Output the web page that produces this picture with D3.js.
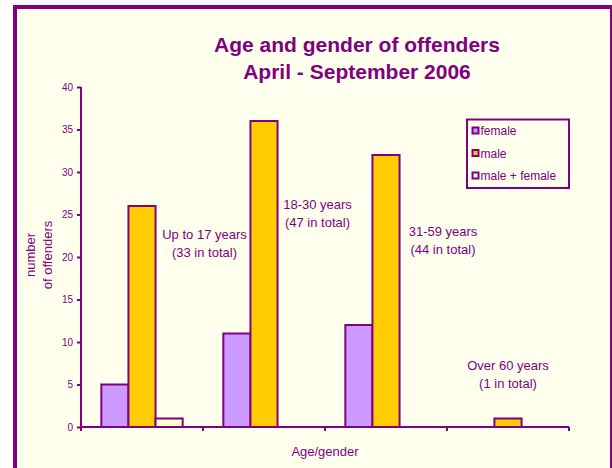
<!DOCTYPE html>
<html>
<head>
<meta charset="utf-8">
<script src="https://cdn.jsdelivr.net/npm/d3@7"></script>
<style>
  html, body { margin: 0; padding: 0; background: #ffffff; }
  svg { display: block; font-family: "Liberation Sans", Arial, sans-serif; }
</style>
</head>
<body>
<svg id="chart" width="612" height="468"></svg>
<script>
const categories = ["Up to 17 years", "18-30 years", "31-59 years", "Over 60 years"];
const seriesNames = ["female", "male", "male + female"];
const female = [5, 11, 12, 0];
const male = [26, 36, 32, 1];
const maleFemale = [1, 0, 0, 0];
const yTicks = [0, 5, 10, 15, 20, 25, 30, 35, 40];
const annotationLines = [
  ["Up to 17 years", "(33 in total)"],
  ["18-30 years", "(47 in total)"],
  ["31-59 years", "(44 in total)"],
  ["Over 60 years", "(1 in total)"]
];
const titleLines = ["Age and gender of offenders", "April - September 2006"];

const purple = "#800080";
const colors = ["#CC99FF", "#FFCC00", "#FFFFCC"];
const bg = "#FFFFEE";

const svg = d3.select("#chart");

// outer frame
svg.append("rect")
  .attr("x", 15).attr("y", 7).attr("width", 597).attr("height", 500)
  .attr("fill", bg).attr("stroke", purple).attr("stroke-width", 4);

const margin = { left: 81, right: 43, top: 87, bottom: 41 };
const W = 612, H = 468;
const x = d3.scaleBand().domain(categories).range([margin.left, W - margin.right]).paddingInner(0).paddingOuter(0);
const y = d3.scaleLinear().domain([0, 40]).range([H - margin.bottom, margin.top]);

const series = [female, male, maleFemale];
// Excel-like gap width 150%
const inner = d3.scaleBand().domain(d3.range(series.length))
  .range([0, x.bandwidth()]).paddingInner(0).paddingOuter(0.75);

// title
svg.append("g").selectAll("text").data(titleLines).join("text")
  .attr("x", 357).attr("y", (d, i) => 51.5 + i * 27.5)
  .attr("text-anchor", "middle")
  .attr("font-size", 21).attr("font-weight", "bold")
  .attr("fill", purple).text(d => d);

// bars
const data = [];
categories.forEach((c, ci) => {
  series.forEach((s, si) => {
    if (s[ci] > 0) data.push({ c, si, v: s[ci] });
  });
});
svg.append("g").selectAll("rect").data(data).join("rect")
  .attr("x", d => x(d.c) + inner(d.si))
  .attr("y", d => y(d.v))
  .attr("width", inner.bandwidth())
  .attr("height", d => y(0) - y(d.v))
  .attr("fill", d => colors[d.si])
  .attr("stroke", purple).attr("stroke-width", 2);

// y axis
const yAxis = svg.append("g").attr("transform", `translate(${margin.left},0)`)
  .call(d3.axisLeft(y).tickValues(yTicks).tickSize(4).tickPadding(4));
yAxis.select(".domain").attr("stroke", purple).attr("stroke-width", 2)
  .attr("d", `M0,${y(40)}V${y(0)}`);
yAxis.selectAll(".tick line").attr("stroke", purple).attr("stroke-width", 2);
yAxis.selectAll(".tick text").attr("fill", purple).attr("font-size", 10)
  .attr("font-family", "Liberation Sans, Arial, sans-serif");

// x axis
const xAxis = svg.append("g").attr("transform", `translate(0,${y(0)})`)
  .call(d3.axisBottom(x).tickSize(0).tickFormat(""));
xAxis.select(".domain").attr("stroke", purple).attr("stroke-width", 2)
  .attr("d", `M${margin.left},0H${W - margin.right}`);
xAxis.selectAll(".tick").remove();
const boundaries = categories.map(c => x(c)).concat([x(categories[categories.length - 1]) + x.bandwidth()]);
xAxis.selectAll("line.b").data(boundaries).join("line").attr("class", "b")
  .attr("x1", d => d).attr("x2", d => d).attr("y1", 0).attr("y2", 4)
  .attr("stroke", purple).attr("stroke-width", 2);

// axis titles
svg.append("text").attr("x", (margin.left + W - margin.right) / 2).attr("y", 456)
  .attr("text-anchor", "middle").attr("font-size", 13).attr("fill", purple).text("Age/gender");

const yt = svg.append("text").attr("transform", "translate(35,255) rotate(-90)")
  .attr("text-anchor", "middle").attr("font-size", 13).attr("fill", purple);
yt.append("tspan").attr("x", 0).attr("dy", 0).text("number");
yt.append("tspan").attr("x", 0).attr("dy", 17).text("of offenders");

// annotations
const annPos = [
  { cx: 204.5, by: 239.3 },
  { cx: 317.5, by: 208.5 },
  { cx: 443, by: 236 },
  { cx: 508, by: 369.5 }
];
annotationLines.forEach((lines, i) => {
  svg.append("g").selectAll("text").data(lines).join("text")
    .attr("x", annPos[i].cx).attr("y", (d, j) => annPos[i].by + j * 18)
    .attr("text-anchor", "middle").attr("font-size", 13).attr("fill", purple)
    .text(d => d);
});

// legend
const lg = svg.append("g");
lg.append("rect").attr("x", 467).attr("y", 119.5).attr("width", 102).attr("height", 68.5)
  .attr("fill", bg).attr("stroke", purple).attr("stroke-width", 2);
const items = lg.selectAll("g.item").data(seriesNames).join("g").attr("class", "item")
  .attr("transform", (d, i) => `translate(472,${135 + i * 22.5})`);
items.append("rect").attr("x", 0.5).attr("y", -7.5).attr("width", 6).attr("height", 6)
  .attr("fill", (d, i) => colors[i]).attr("stroke", purple).attr("stroke-width", 2);
items.append("text").attr("x", 8.5).attr("y", 0).attr("font-size", 12).attr("fill", purple)
  .text(d => d);
</script>
</body>
</html>
